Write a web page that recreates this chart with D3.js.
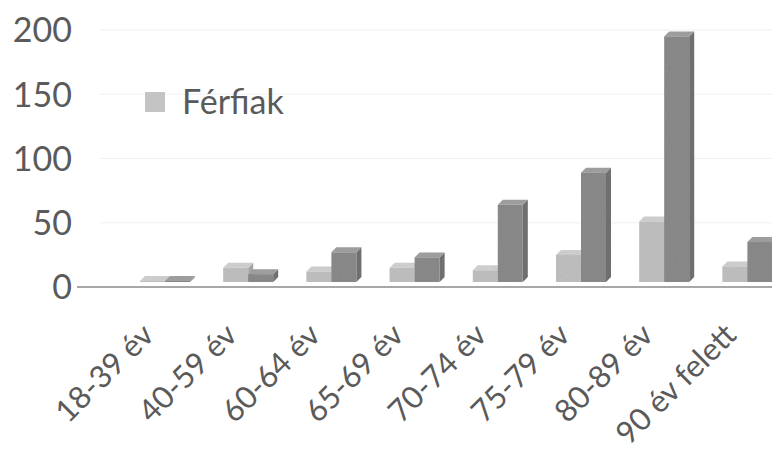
<!DOCTYPE html>
<html><head><meta charset="utf-8">
<script src="https://cdn.jsdelivr.net/npm/d3@7"></script>
<style>
html,body{margin:0;padding:0;background:#fff;}
svg{display:block;font-family:Lato, "Open Sans", sans-serif;}
</style></head>
<body>
<svg id="c" width="772" height="454"></svg>
<script>
const categories = ["18-39 év","40-59 év","60-64 év","65-69 év","70-74 év","75-79 év","80-89 év","90 év felett"];
const seriesNames = ["Férfiak","Nők"];
const ferfiak = [2, 15, 12, 15, 13, 25, 51, 16];
const nok = [3, 10, 27, 23, 64, 89, 195, 35];
const yTicks = [0, 50, 100, 150, 200];

const svg = d3.select("#c");
const y = d3.scaleLinear().domain([0, 200]).range([287, 30]);
const x = d3.scaleBand().domain(categories).range([112, 112 + 8 * 83.2]).padding(0);
const xs = d3.scaleBand().domain(seriesNames).range([28, 78]).padding(0);

const colors = {
  "Férfiak": {front:"#c4c4c4", side:"#acacac", top:"#d6d6d6"},
  "Nők": {front:"#8e8e8e", side:"#747474", top:"#a4a4a4"}
};
const dx = 5, dy = 5, lift = 5;

const defs = svg.append("defs");
const f = defs.append("filter").attr("id","grain");
f.append("feTurbulence").attr("type","fractalNoise").attr("baseFrequency",0.9).attr("numOctaves",2).attr("result","n");
f.append("feColorMatrix").attr("in","n").attr("type","matrix")
  .attr("values","0 0 0 0 0  0 0 0 0 0  0 0 0 0 0  0 0 0 0.18 0").attr("result","a");
f.append("feComposite").attr("in","a").attr("in2","SourceGraphic").attr("operator","in").attr("result","g");
f.append("feMerge").call(m=>{m.append("feMergeNode").attr("in","SourceGraphic");m.append("feMergeNode").attr("in","g");});

svg.append("g").selectAll("line").data(yTicks.filter(d=>d>0)).join("line")
  .attr("x1", 100).attr("x2", 772).attr("y1", d=>y(d)).attr("y2", d=>y(d))
  .attr("stroke","#f0f0f0").attr("stroke-width",1.2);

const yAxis = d3.axisLeft(y).tickValues(yTicks).tickSize(0).tickPadding(0);
const ga = svg.append("g").attr("transform","translate(72,0)").call(yAxis);
ga.select(".domain").remove();
ga.selectAll("text").attr("font-size",34).attr("fill","#5a5a5a").attr("font-family","Lato, sans-serif").attr("dy","0.35em");

svg.append("line").attr("x1",77).attr("x2",772).attr("y1",y(0)).attr("y2",y(0))
  .attr("stroke","#8a8a8a").attr("stroke-width",1.5);

const data = [];
categories.forEach((c,i)=>{
  data.push({c, s:"Férfiak", v:ferfiak[i]});
  data.push({c, s:"Nők", v:nok[i]});
});
const bars = svg.append("g").attr("filter","url(#grain)");
data.forEach(d=>{
  const x0 = x(d.c) + xs(d.s);
  const w = xs.bandwidth();
  const base = y(0) - lift;
  const top = Math.min(y(d.v), base - 1);
  const col = colors[d.s];
  const g = bars.append("g");
  g.append("path").attr("d", `M${x0+w},${top} L${x0+w+dx},${top-dy} L${x0+w+dx},${base-dy} L${x0+w},${base} Z`).attr("fill", col.side);
  g.append("path").attr("d", `M${x0},${top} L${x0+dx},${top-dy} L${x0+w+dx},${top-dy} L${x0+w},${top} Z`).attr("fill", col.top);
  g.append("rect").attr("x", x0).attr("y", top).attr("width", w).attr("height", base - top).attr("fill", col.front);
});

svg.append("g").selectAll("text").data(categories).join("text")
  .attr("transform", d=>`translate(${x(d) + x.bandwidth()/2 + 2},337) rotate(-45)`)
  .attr("text-anchor","end")
  .attr("font-size",31).attr("fill","#5a5a5a")
  .text(d=>d);

const lg = svg.append("g").attr("transform","translate(145,92)");
lg.append("rect").attr("width",20).attr("height",20).attr("fill",colors["Férfiak"].front);
lg.append("text").attr("x",37).attr("y",10).attr("dy","0.35em").attr("font-size",34).attr("fill","#5a5a5a").text("Férfiak");
</script>
</body></html>
